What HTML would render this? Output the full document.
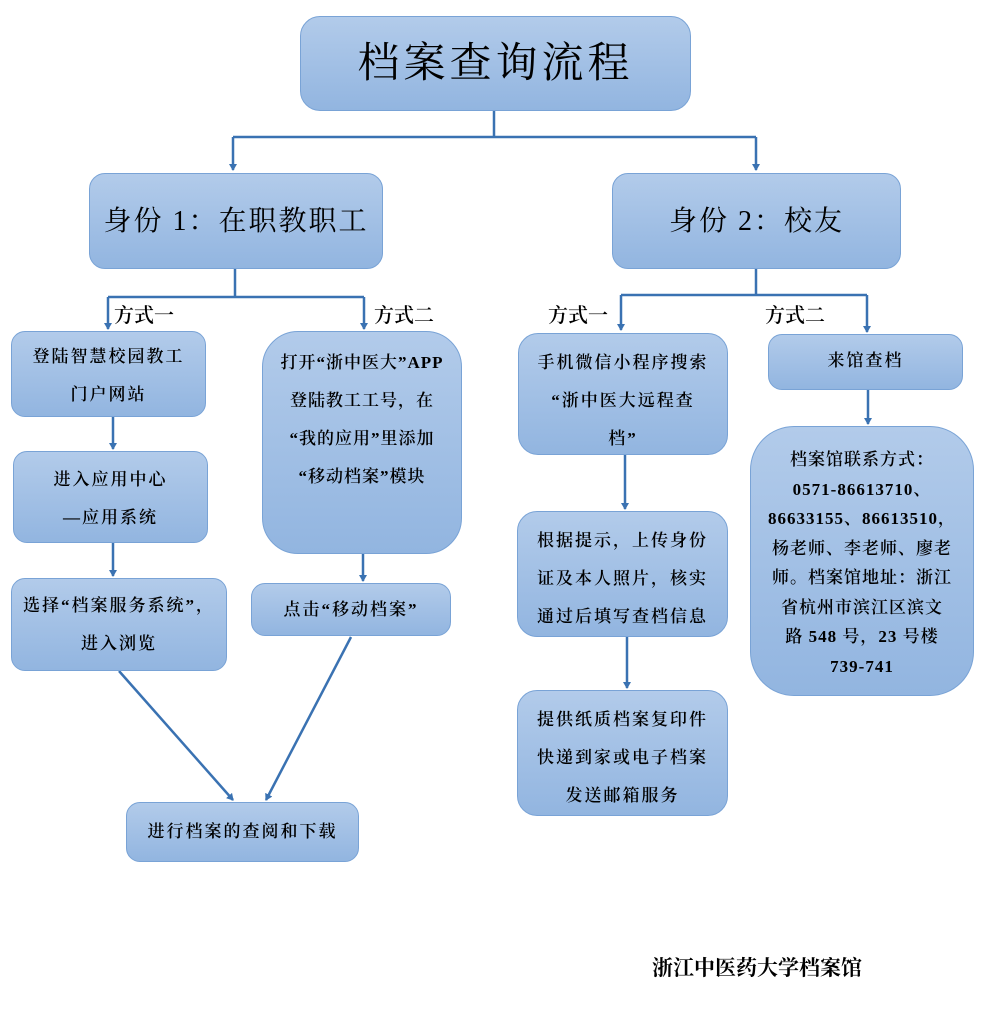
<!DOCTYPE html>
<html><head><meta charset="utf-8"><style>
html,body{margin:0;padding:0;background:#fff;}
body{width:983px;height:1015px;position:relative;overflow:hidden;font-family:"Liberation Serif","Noto Serif CJK SC",serif;color:#000;}
.b{position:absolute;box-sizing:border-box;border:1.5px solid #79a3d6;border-radius:14px;background:linear-gradient(#b2cbea,#92b5e0);text-align:center;font-size:17px;line-height:38px;letter-spacing:2px;font-weight:600;}
.t{position:absolute;font-size:20px;font-weight:600;}
svg{position:absolute;left:0;top:0;}
</style></head><body>
<svg width="983" height="1015" viewBox="0 0 983 1015">
<defs><marker id="a" markerWidth="8" markerHeight="8" refX="6" refY="4" orient="auto" markerUnits="userSpaceOnUse"><path d="M0,0 L7,4 L0,8 Z" fill="#3a72b2"/></marker></defs>
<g stroke="#3a72b2" stroke-width="2.5" fill="none">
<path d="M494,111 V137 M233,137 H756"/>
<path d="M233,137 V170" marker-end="url(#a)"/>
<path d="M756,137 V170" marker-end="url(#a)"/>
<path d="M235,269 V297 M108,297 H364"/>
<path d="M108,297 V329" marker-end="url(#a)"/>
<path d="M364,297 V329" marker-end="url(#a)"/>
<path d="M756,269 V295 M621,295 H867"/>
<path d="M621,295 V330" marker-end="url(#a)"/>
<path d="M867,295 V332" marker-end="url(#a)"/>
<path d="M113,417 V449" marker-end="url(#a)"/>
<path d="M113,543 V576" marker-end="url(#a)"/>
<path d="M363,554 V581" marker-end="url(#a)"/>
<path d="M119,671 L233,800" marker-end="url(#a)"/>
<path d="M351,637 L266,800" marker-end="url(#a)"/>
<path d="M625,455 V509" marker-end="url(#a)"/>
<path d="M627,637 V688" marker-end="url(#a)"/>
<path d="M868,390 V424" marker-end="url(#a)"/>
</g></svg>
<div class="b" style="left:300px;top:16px;width:391px;height:95px;border-radius:20px;font-size:42px;line-height:95px;letter-spacing:4px;font-weight:normal;">档案查询流程</div>
<div class="b" style="left:89px;top:173px;width:294px;height:96px;border-radius:16px;font-size:28px;line-height:96px;font-weight:normal;">身份 1：在职教职工</div>
<div class="b" style="left:612px;top:173px;width:289px;height:96px;border-radius:16px;font-size:28px;line-height:96px;font-weight:normal;">身份 2：校友</div>
<div class="t" style="left:114px;top:299px;">方式一</div>
<div class="t" style="left:374px;top:299px;">方式二</div>
<div class="t" style="left:548px;top:299px;">方式一</div>
<div class="t" style="left:765px;top:299px;">方式二</div>
<div class="b" style="left:11px;top:331px;width:195px;height:86px;padding-top:6px;">登陆智慧校园教工<br>门户网站</div>
<div class="b" style="left:13px;top:451px;width:195px;height:92px;padding-top:9px;">进入应用中心<br>—应用系统</div>
<div class="b" style="left:11px;top:578px;width:216px;height:93px;padding-top:8px;">选择“档案服务系统”，<br>进入浏览</div>
<div class="b" style="left:262px;top:331px;width:200px;height:223px;border-radius:36px;padding-top:12px;letter-spacing:1px;">打开“浙中医大”APP<br>登陆教工工号，在<br>“我的应用”里添加<br>“移动档案”模块</div>
<div class="b" style="left:251px;top:583px;width:200px;height:53px;line-height:52px;">点击“移动档案”</div>
<div class="b" style="left:126px;top:802px;width:233px;height:60px;line-height:58px;">进行档案的查阅和下载</div>
<div class="b" style="left:518px;top:333px;width:210px;height:122px;border-radius:20px;padding-top:10px;">手机微信小程序搜索<br>“浙中医大远程查<br>档”</div>
<div class="b" style="left:517px;top:511px;width:211px;height:126px;border-radius:20px;padding-top:10px;">根据提示，上传身份<br>证及本人照片，核实<br>通过后填写查档信息</div>
<div class="b" style="left:517px;top:690px;width:211px;height:126px;border-radius:20px;padding-top:10px;">提供纸质档案复印件<br>快递到家或电子档案<br>发送邮箱服务</div>
<div class="b" style="left:768px;top:334px;width:195px;height:56px;line-height:52px;">来馆查档</div>
<div class="b" style="left:750px;top:426px;width:224px;height:270px;border-radius:44px;padding-top:18px;line-height:29.5px;letter-spacing:1px;">档案馆联系方式：<br>0571-86613710、<br>86633155、86613510，<br>杨老师、李老师、廖老<br>师。档案馆地址：浙江<br>省杭州市滨江区滨文<br>路 548 号，23 号楼<br>739-741</div>
<div class="t" style="left:652px;top:952px;font-size:21px;font-weight:bold;">浙江中医药大学档案馆</div>
</body></html>
